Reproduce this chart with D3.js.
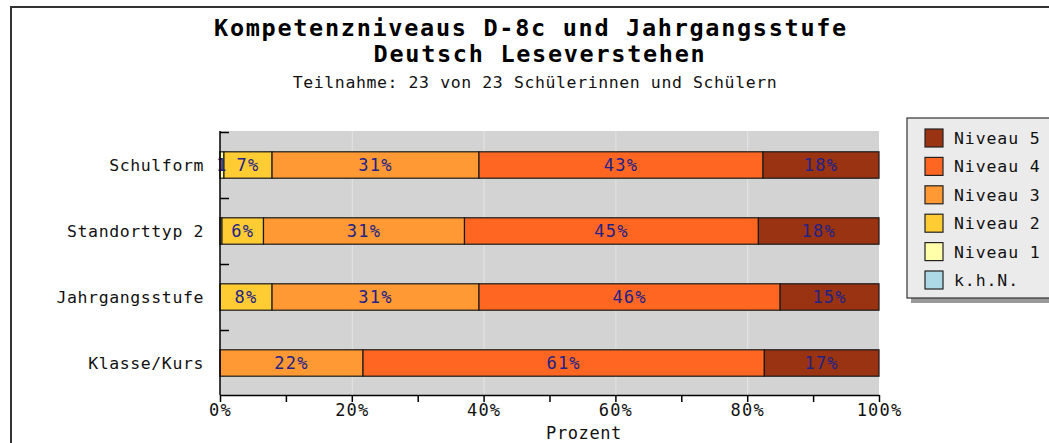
<!DOCTYPE html>
<html><head><meta charset="utf-8">
<script src="https://cdn.jsdelivr.net/npm/d3@7"></script>
<style>
html,body{margin:0;padding:0;background:#fff;}
svg{display:block;}
text{font-family:"DejaVu Sans Mono","Liberation Mono",monospace;}
</style></head>
<body>
<svg id="c" width="1049" height="443"></svg>
<script>
const titleLines = ["Kompetenzniveaus D-8c und Jahrgangsstufe", "Deutsch Leseverstehen"];
const subtitle = "Teilnahme: 23 von 23 Schülerinnen und Schülern";
const categories = ["Schulform", "Standorttyp 2", "Jahrgangsstufe", "Klasse/Kurs"];
const levels = ["k.h.N.", "Niveau 1", "Niveau 2", "Niveau 3", "Niveau 4", "Niveau 5"];
const khn      = [0, 0, 0, 0];
const niveau1  = [0.6, 0.3, 0, 0];
const niveau2  = [7.3, 6.3, 7.9, 0];
const niveau3  = [31.4, 30.5, 31.4, 21.7];
const niveau4  = [43.1, 44.6, 45.7, 60.9];
const niveau5  = [17.6, 18.3, 15.0, 17.4];
const labelsKhn = ["", "", "", ""];
const labels1 = ["1", "", "", ""];
const labels2 = ["7%", "6%", "8%", ""];
const labels3 = ["31%", "31%", "31%", "22%"];
const labels4 = ["43%", "45%", "46%", "61%"];
const labels5 = ["18%", "18%", "15%", "17%"];
const xTicks = [0, 10, 20, 30, 40, 50, 60, 70, 80, 90, 100];
const xTickLabels = ["0%", "", "20%", "", "40%", "", "60%", "", "80%", "", "100%"];
const xTitle = "Prozent";

const series = [khn, niveau1, niveau2, niveau3, niveau4, niveau5];
const seriesLabels = [labelsKhn, labels1, labels2, labels3, labels4, labels5];
const colors = ["#add8e6", "#ffffaa", "#ffcc33", "#ff9933", "#ff6622", "#993311"];

const svg = d3.select("#c");

// outer frame
svg.append("rect").attr("x", 11).attr("y", 7).attr("width", 1100).attr("height", 500)
  .attr("fill", "#fff").attr("stroke", "#333").attr("stroke-width", 2);

const x = d3.scaleLinear().domain([0, 100]).range([220, 879]);
const y = d3.scaleBand().domain(categories).range([132, 396]).paddingInner(0.6).paddingOuter(0.3);
const plotTop = 131, plotBottom = 395;

// plot background
svg.append("rect").attr("x", x(0)).attr("y", plotTop).attr("width", x(100) - x(0)).attr("height", plotBottom - plotTop)
  .attr("fill", "#d3d3d3");

// gridlines
svg.append("g").selectAll("line").data([20, 40, 60, 80]).join("line")
  .attr("x1", d => x(d) + 0.5).attr("x2", d => x(d) + 0.5)
  .attr("y1", plotTop).attr("y2", plotBottom)
  .attr("stroke", "#e4e4e4").attr("stroke-width", 1);

// stacked bars
const rows = categories.map((c, i) => {
  let acc = 0;
  return series.map((s, k) => {
    const v = s[i];
    const seg = {cat: c, k, x0: acc, x1: acc + v, label: seriesLabels[k][i]};
    acc += v;
    return seg;
  });
});
const segs = rows.flat().filter(d => d.x1 - d.x0 > 0);
svg.append("g").selectAll("rect").data(segs).join("rect")
  .attr("x", d => x(d.x0)).attr("y", d => y(d.cat))
  .attr("width", d => x(d.x1) - x(d.x0)).attr("height", y.bandwidth())
  .attr("fill", d => colors[d.k]).attr("stroke", "#1a1a1a").attr("stroke-width", 1.2);

svg.append("g").selectAll("text").data(segs.filter(d => d.label)).join("text")
  .attr("x", d => (x(d.x0) + x(d.x1)) / 2).attr("y", d => y(d.cat) + y.bandwidth() / 2 + 6)
  .attr("text-anchor", "middle").attr("font-size", 17).attr("letter-spacing", 1.2)
  .attr("fill", "#222288").text(d => d.label);

// y axis
const yAxis = svg.append("g");
yAxis.append("line").attr("x1", x(0)).attr("x2", x(0)).attr("y1", plotTop).attr("y2", plotBottom)
  .attr("stroke", "#000").attr("stroke-width", 1.5);
const bounds = categories.map(c => y(c) + y.bandwidth() / 2 - y.step() / 2);
yAxis.selectAll("line.t").data(bounds).join("line").attr("class", "t")
  .attr("x1", x(0)).attr("x2", x(0) + 9).attr("y1", d => Math.round(d) + 0.5).attr("y2", d => Math.round(d) + 0.5)
  .attr("stroke", "#000").attr("stroke-width", 1.5);
yAxis.selectAll("text").data(categories).join("text")
  .attr("x", 204).attr("y", c => y(c) + y.bandwidth() / 2 + 6)
  .attr("text-anchor", "end").attr("font-size", 16.5).attr("letter-spacing", 0.6)
  .attr("fill", "#111").text(c => c);

// x axis
const xAxisG = svg.append("g").attr("transform", `translate(0,${plotBottom})`);
xAxisG.call(d3.axisBottom(x).tickValues(xTicks).tickSize(7).tickSizeOuter(0)
  .tickFormat((d, i) => xTickLabels[i]));
xAxisG.select(".domain").attr("stroke", "#000").attr("stroke-width", 1.5);
xAxisG.selectAll(".tick line").attr("stroke", "#000").attr("stroke-width", 1.5);
xAxisG.selectAll(".tick text").attr("font-family", "DejaVu Sans Mono").attr("font-size", 17)
  .attr("letter-spacing", 1.2).attr("fill", "#111").attr("dy", "0.85em").attr("y", 7);

svg.append("text").attr("x", 584).attr("y", 439)
  .attr("text-anchor", "middle").attr("font-size", 17).attr("letter-spacing", 0.6).attr("fill", "#111").text(xTitle);

// titles
svg.append("text").attr("x", 531).attr("y", 36).attr("text-anchor", "middle")
  .attr("font-size", 23.5).attr("font-weight", "bold").attr("letter-spacing", 1.7).attr("fill", "#000").text(titleLines[0]);
svg.append("text").attr("x", 540).attr("y", 62).attr("text-anchor", "middle")
  .attr("font-size", 23.5).attr("font-weight", "bold").attr("letter-spacing", 1.7).attr("fill", "#000").text(titleLines[1]);
svg.append("text").attr("x", 535).attr("y", 88).attr("text-anchor", "middle")
  .attr("font-size", 16.5).attr("letter-spacing", 0.6).attr("fill", "#111").text(subtitle);

// legend
const lg = svg.append("g");
lg.append("rect").attr("x", 911).attr("y", 122).attr("width", 160).attr("height", 181).attr("fill", "#999");
lg.append("rect").attr("x", 907).attr("y", 118).attr("width", 160).attr("height", 180)
  .attr("fill", "#ebebeb").attr("stroke", "#333").attr("stroke-width", 1.2);
const legendItems = levels.slice().reverse();
const legendColors = colors.slice().reverse();
const ly = d3.scalePoint().domain(legendItems).range([138, 280]);
lg.selectAll("rect.sw").data(legendItems).join("rect").attr("class", "sw")
  .attr("x", 925).attr("y", d => ly(d) - 9).attr("width", 18).attr("height", 18)
  .attr("fill", (d, i) => legendColors[i]).attr("stroke", "#222").attr("stroke-width", 1.2);
lg.selectAll("text").data(legendItems).join("text")
  .attr("x", 954).attr("y", d => ly(d) + 6).attr("font-size", 16.5).attr("letter-spacing", 0.9)
  .attr("fill", "#111").text(d => d);
</script>
</body></html>
